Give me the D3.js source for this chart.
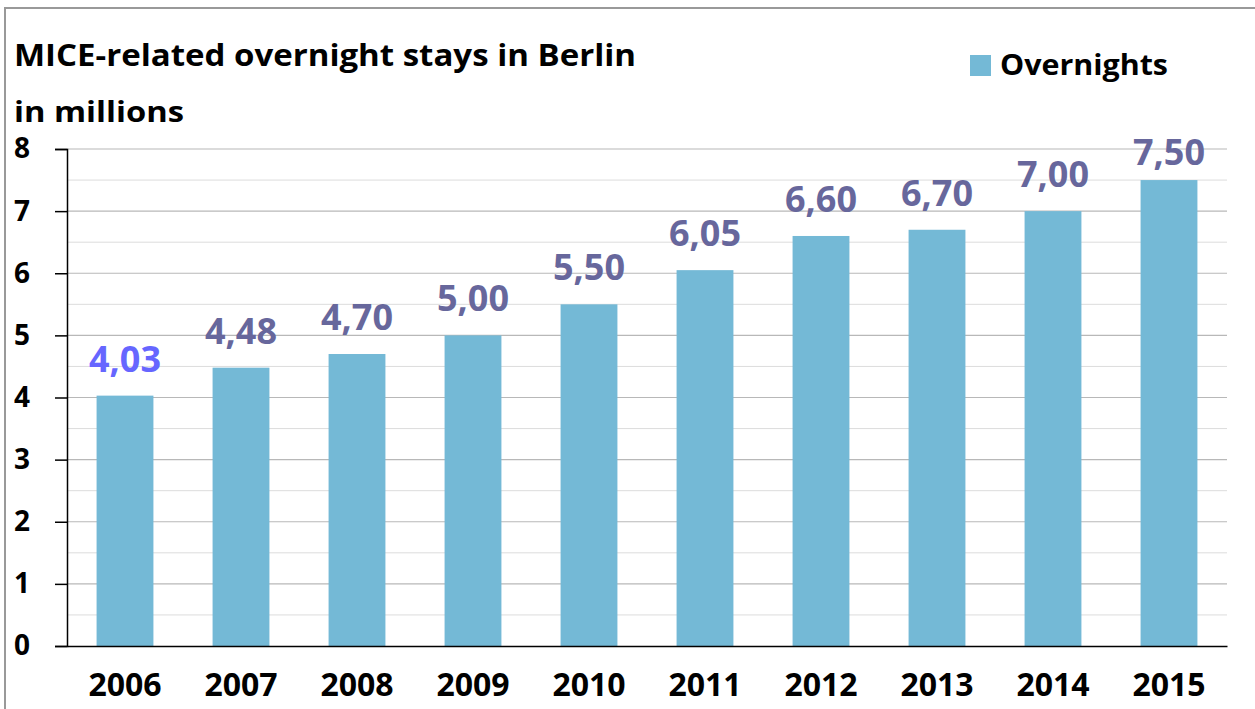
<!DOCTYPE html>
<html>
<head>
<meta charset="utf-8">
<script src="https://cdn.jsdelivr.net/npm/d3@7"></script>
<style>
  body { margin: 0; background: #fff; }
  text { font-family: "Open Sans", Lato, sans-serif; font-weight: bold; }
</style>
</head>
<body>
<script>
// chart data
var years = ['2006', '2007', '2008', '2009', '2010', '2011', '2012', '2013', '2014', '2015'];
var overnights = [4.03, 4.48, 4.70, 5.00, 5.50, 6.05, 6.60, 6.70, 7.00, 7.50];
var yTicks = [0, 1, 2, 3, 4, 5, 6, 7, 8];
var minorTicks = [0.5, 1.5, 2.5, 3.5, 4.5, 5.5, 6.5, 7.5];

var width = 1255, height = 709;
var margin = { left: 67, right: 28, top: 149, bottom: 63 };

var svg = d3.select('body').append('svg').attr('width', width).attr('height', height);

// outer frame
svg.append('path')
  .attr('d', 'M5,' + height + 'V8H' + width)
  .attr('fill', 'none')
  .attr('stroke', '#999')
  .attr('stroke-width', 2);

var x = d3.scaleBand().domain(years)
  .range([margin.left, width - margin.right])
  .paddingInner(0.51).paddingOuter(0.255);

var y = d3.scaleLinear().domain([0, 8]).range([height - margin.bottom, margin.top]);

// gridlines
svg.append('g').selectAll('line').data(minorTicks).enter().append('line')
  .attr('x1', margin.left).attr('x2', width - margin.right)
  .attr('y1', d => y(d)).attr('y2', d => y(d))
  .attr('stroke', '#dcdcdc').attr('stroke-width', 1);
svg.append('g').selectAll('line').data(yTicks.slice(1)).enter().append('line')
  .attr('x1', margin.left).attr('x2', width - margin.right)
  .attr('y1', d => y(d)).attr('y2', d => y(d))
  .attr('stroke', '#b8b8b8').attr('stroke-width', 1.2);

// bars
svg.append('g').selectAll('rect').data(overnights).enter().append('rect')
  .attr('x', (d, i) => x(years[i]))
  .attr('width', x.bandwidth())
  .attr('y', d => y(d))
  .attr('height', d => y(0) - y(d))
  .attr('fill', '#74b9d6');

// value labels (kept from running off the top of the chart)
svg.append('g').selectAll('text').data(overnights).enter().append('text')
  .attr('x', (d, i) => x(years[i]) + x.bandwidth() / 2)
  .attr('y', d => Math.max(y(d) - 24, 165))
  .attr('text-anchor', 'middle')
  .attr('font-size', 36)
  .attr('fill', (d, i) => i === 0 ? '#6666ff' : '#67679c')
  .text(d => d.toFixed(2).replace('.', ','));

// y axis
var yAxis = svg.append('g')
  .attr('transform', 'translate(' + margin.left + ',0)')
  .call(d3.axisLeft(y).tickValues(yTicks).tickSize(12).tickPadding(22).tickFormat(d3.format('d')));
yAxis.selectAll('path, line').attr('stroke', '#000').attr('stroke-width', 1.5);
yAxis.selectAll('text').attr('font-size', 28).attr('fill', '#000')
  .attr('text-anchor', 'start').attr('x', -53);

// x axis
var xAxis = svg.append('g')
  .attr('transform', 'translate(0,' + y(0) + ')')
  .call(d3.axisBottom(x).tickSize(0).tickPadding(27));
xAxis.select('.domain').attr('stroke', '#000').attr('stroke-width', 1.5);
xAxis.selectAll('text').attr('font-size', 32).attr('fill', '#000');

// titles
svg.append('text').attr('x', 14).attr('y', 66).attr('font-size', 30).attr('fill', '#000')
  .attr('textLength', 622).attr('lengthAdjust', 'spacingAndGlyphs')
  .text('MICE-related overnight stays in Berlin');
svg.append('text').attr('x', 14).attr('y', 122).attr('font-size', 29).attr('fill', '#000')
  .attr('textLength', 170).attr('lengthAdjust', 'spacingAndGlyphs')
  .text('in millions');

// legend
svg.append('rect').attr('x', 970).attr('y', 55).attr('width', 21).attr('height', 21).attr('fill', '#74b9d6');
svg.append('text').attr('x', 1000).attr('y', 75).attr('font-size', 29).attr('fill', '#000')
  .attr('textLength', 168).attr('lengthAdjust', 'spacingAndGlyphs')
  .text('Overnights');
</script>
</body>
</html>
